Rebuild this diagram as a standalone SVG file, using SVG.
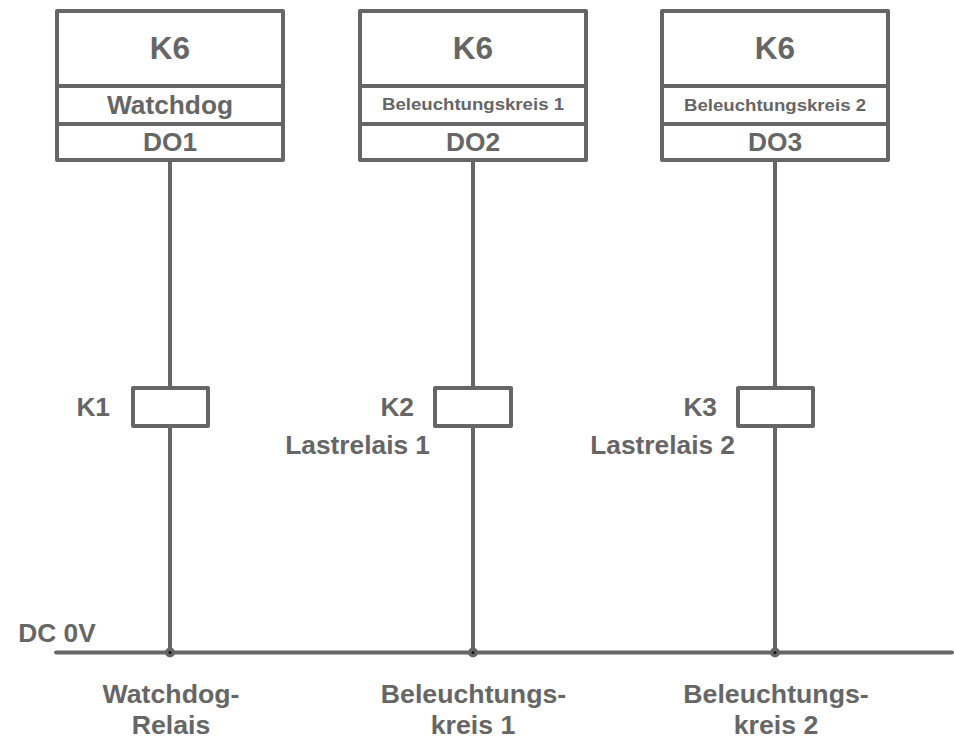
<svg xmlns="http://www.w3.org/2000/svg" width="954" height="740" viewBox="0 0 954 740">
<style>
text{font-family:"Liberation Sans",Arial,sans-serif;font-weight:bold;fill:#666;text-anchor:middle}
.b{fill:#fff;stroke:#666;stroke-width:4;stroke-linejoin:round}
.l{fill:none;stroke:#666;stroke-width:4;stroke-linecap:round}
.t{font-size:31.5px}.m{font-size:26.300px}.w{font-size:26.700px}.s{font-size:16px}
.e{text-anchor:end}
.d{fill:#666}.c{fill:#111}
</style>
<rect width="954" height="740" fill="#fff"/>
<g id="connectors">
<path class="l" d="M170 161V388M170 426V652M473 161V388M473 426V652M775 161V388M775 426V652M56 652.500H952"/>
<circle class="d" cx="170" cy="652.500" r="5"/><circle class="c" cx="170" cy="652.500" r="1.500"/>
<circle class="d" cx="473" cy="652.500" r="5"/><circle class="c" cx="473" cy="652.500" r="1.500"/>
<circle class="d" cx="775" cy="652.500" r="5"/><circle class="c" cx="775" cy="652.500" r="1.500"/>
</g>
<g id="k6-1"><rect class="b" x="57" y="11" width="226" height="149"/><path class="l" d="M57 86H283M57 124H283"/>
<text class="t" x="170" y="59">K6</text><text class="m" x="170" y="114">Watchdog</text><text class="m" x="170" y="151">DO1</text></g>
<g id="k6-2"><rect class="b" x="360" y="11" width="226" height="149"/><path class="l" d="M360 86H586M360 124H586"/>
<text class="t" x="473" y="59">K6</text><text class="s" x="473" y="110" textLength="182" lengthAdjust="spacingAndGlyphs">Beleuchtungskreis 1</text><text class="m" x="473" y="151">DO2</text></g>
<g id="k6-3"><rect class="b" x="662" y="11" width="226" height="149"/><path class="l" d="M662 86H888M662 124H888"/>
<text class="t" x="775" y="59">K6</text><text class="s" x="775" y="111" textLength="182" lengthAdjust="spacingAndGlyphs">Beleuchtungskreis 2</text><text class="m" x="775" y="151">DO3</text></g>
<g id="k1"><rect class="b" x="133" y="388" width="75" height="38"/><text class="m e" x="110" y="415.500">K1</text></g>
<g id="k2"><rect class="b" x="435" y="388" width="76" height="38"/><text class="m e" x="414" y="415.500">K2</text><text class="m e" x="430" y="453.500">Lastrelais 1</text></g>
<g id="k3"><rect class="b" x="738" y="388" width="75" height="38"/><text class="m e" x="717" y="415.500">K3</text><text class="m e" x="735" y="453.500">Lastrelais 2</text></g>
<g id="labels">
<text class="m" x="57" y="642">DC 0V</text>
<text class="w" x="171" y="703">Watchdog-</text><text class="w" x="171" y="734">Relais</text>
<text class="w" x="473.500" y="703">Beleuchtungs-</text><text class="w" x="473" y="734">kreis 1</text>
<text class="w" x="776" y="703">Beleuchtungs-</text><text class="w" x="776" y="734">kreis 2</text>
</g>
</svg>
